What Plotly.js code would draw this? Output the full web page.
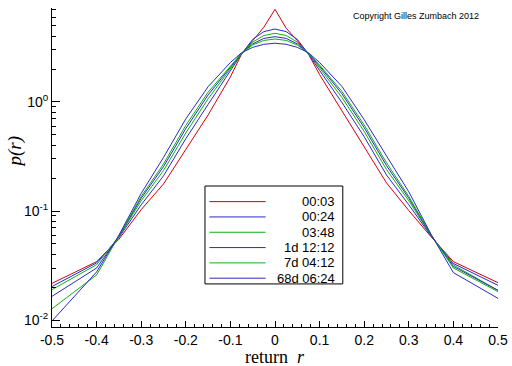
<!DOCTYPE html>
<html>
<head>
<meta charset="utf-8">
<script src="https://cdn.plot.ly/plotly-3.0.1.min.js"></script>
<style>html,body{margin:0;padding:0;background:#fff;}#chart{width:512px;height:366px;}</style>
</head>
<body>
<div id="chart"></div>
<script>
// return values r
const returns = [-0.5,-0.4,-0.35,-0.3,-0.25,-0.2,-0.15,-0.1,-0.075,-0.05,-0.025,0,0.025,0.05,0.075,0.1,0.15,0.2,0.25,0.3,0.35,0.4,0.5];
// p(r) for each time horizon
const p_0003 = [0.0217,0.0343,0.055,0.103,0.177,0.37,0.76,1.7,2.75,3.65,4.85,7.08,4.75,3.65,2.75,1.78,0.83,0.395,0.181,0.101,0.058,0.0343,0.022];
const p_0024 = [0.0203,0.0334,0.057,0.114,0.21,0.46,0.95,1.9,2.76,3.75,4.42,4.67,4.42,3.75,2.76,1.945,0.99,0.48,0.214,0.114,0.0588,0.033,0.0208];
const p_0348 = [0.019,0.0322,0.058,0.124,0.235,0.52,1.07,2.02,2.77,3.54,4.07,4.27,4.07,3.54,2.77,2.05,1.10,0.536,0.240,0.124,0.0595,0.032,0.0187];
const p_1d1212 = [0.0165,0.030,0.0585,0.131,0.255,0.57,1.16,2.1,2.79,3.41,3.83,3.97,3.83,3.41,2.79,2.13,1.19,0.582,0.261,0.131,0.060,0.031,0.0187];
const p_7d0412 = [0.0127,0.0259,0.059,0.136,0.27,0.61,1.23,2.16,2.80,3.33,3.67,3.78,3.67,3.33,2.80,2.18,1.25,0.615,0.277,0.136,0.0605,0.030,0.0182];
const p_68d0624 = [0.0098,0.0276,0.060,0.145,0.31,0.70,1.38,2.3,2.83,3.17,3.38,3.46,3.38,3.17,2.83,2.3,1.39,0.688,0.32,0.150,0.061,0.0272,0.0158];
const seriesNames = ["00:03","00:24","03:48","1d 12:12","7d 04:12","68d 06:24"];
const xTickVals = [-0.5,-0.4,-0.3,-0.2,-0.1,0,0.1,0.2,0.3,0.4,0.5];
const xTickText = ["-0.5","-0.4","-0.3","-0.2","-0.1","0","0.1","0.2","0.3","0.4","0.5"];
const yTickVals = [0.01,0.1,1];
const yTickText = ["10<sup>-2</sup>","10<sup>-1</sup>","10<sup>0</sup>"];
const xTitle = 'return\u00a0 <i>r</i>';
const yTitle = '<i>p(r)</i>';

const seriesValues = [p_0003,p_0024,p_0348,p_1d1212,p_7d0412,p_68d0624];
const colors = ["#cc0010","#2a2ac0","#10b010","#2a2ac0","#10b010","#2a2ac0"];

const traces = seriesValues.map((v,i)=>({
  x: returns, y: v, type:'scatter', mode:'lines', name: seriesNames[i],
  line:{color:colors[i], width:1}, showlegend:false
}));

// minor log ticks
const yMinor = [];
[0.01,0.1,1].forEach(d=>{for(let k=2;k<=9;k++){yMinor.push(d*k);}});

// manual legend
const shapes = [];
const annotations = [];
const legX0=0.343, legX1=0.652, legY0=0.135, legY1=0.442;
shapes.push({type:'rect',xref:'paper',yref:'paper',x0:legX0,x1:legX1,y0:legY0,y1:legY1,line:{color:'#000',width:1},fillcolor:'#fff',layer:'above'});
seriesNames.forEach((n,i)=>{
  const yy = 0.393 - i*0.048;
  shapes.push({type:'line',xref:'paper',yref:'paper',x0:0.353,x1:0.479,y0:yy,y1:yy,line:{color:colors[i],width:1},layer:'above'});
  annotations.push({xref:'paper',yref:'paper',x:0.640,y:yy,xanchor:'right',yanchor:'middle',text:n,showarrow:false,font:{family:'Liberation Sans, Arial, sans-serif',size:13,color:'#000'}});
});
annotations.push({xref:'paper',yref:'paper',x:0.962,y:0.975,xanchor:'right',yanchor:'middle',text:'Copyright Gilles Zumbach 2012',showarrow:false,font:{family:'Liberation Sans, Arial, sans-serif',size:9,color:'#000'}});
// axis titles
annotations.push({xref:'paper',yref:'paper',x:0.5,y:-0.095,xanchor:'center',yanchor:'middle',text:xTitle,showarrow:false,font:{family:'Liberation Serif, Times New Roman, serif',size:18,color:'#000'}});
annotations.push({xref:'paper',yref:'paper',x:-0.083,y:0.55,xanchor:'center',yanchor:'middle',textangle:-90,text:yTitle,showarrow:false,font:{family:'Liberation Serif, Times New Roman, serif',size:19,color:'#000'}});

const layout = {
  width:512, height:366,
  margin:{l:52,r:14,t:8,b:39},
  paper_bgcolor:'#fff', plot_bgcolor:'#fff',
  showlegend:false,
  font:{family:'Liberation Sans, Arial, sans-serif',size:14,color:'#000'},
  xaxis:{
    range:[-0.5,0.5], tickmode:'array', tickvals:xTickVals, ticktext:xTickText,
    ticks:'inside', ticklen:6, tickcolor:'#000', tickwidth:1,
    showline:true, linecolor:'#000', linewidth:1, showgrid:false, zeroline:false,
    minor:{dtick:0.02, tick0:-0.5, ticks:'inside', ticklen:3, tickcolor:'#000', showgrid:false},
    tickfont:{size:14}
  },
  yaxis:{
    type:'log', range:[-2.064,0.862], tickmode:'array', tickvals:yTickVals, ticktext:yTickText,
    ticks:'inside', ticklen:8, tickcolor:'#000', tickwidth:1,
    showline:true, linecolor:'#000', linewidth:1, showgrid:false, zeroline:false,
    minor:{tickmode:'array', tickvals:yMinor, ticks:'inside', ticklen:4, tickcolor:'#000', showgrid:false},
    tickfont:{size:14}
  },
  shapes:shapes,
  annotations:annotations
};
Plotly.newPlot('chart', traces, layout, {displayModeBar:false, staticPlot:true});
</script>
</body>
</html>
